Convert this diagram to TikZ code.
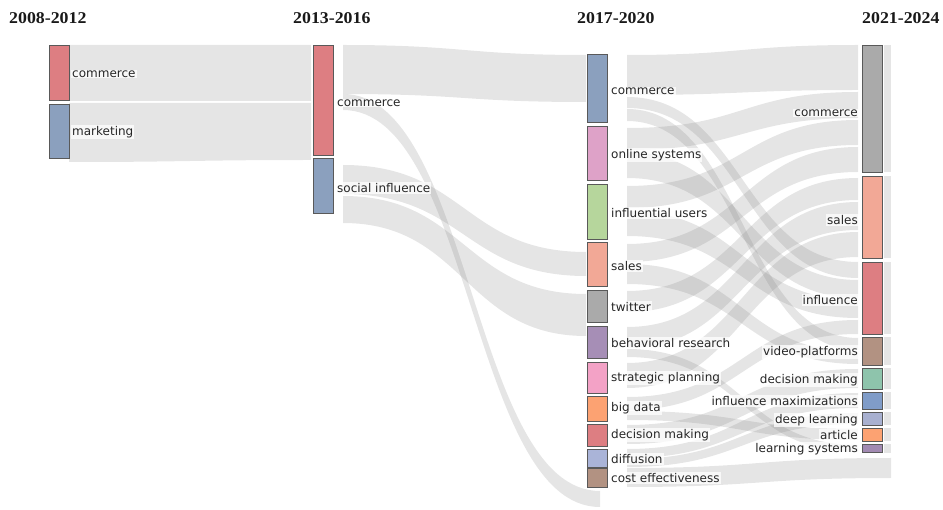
\documentclass[tikz,border=0pt]{standalone}
\usepackage{fontspec}
\setmainfont{Liberation Serif}
\newfontfamily\labelfont{DejaVu Sans}
\definecolor{rose}{RGB}{221,126,130}
\definecolor{steel}{RGB}{139,160,190}
\definecolor{pinkA}{RGB}{222,162,200}
\definecolor{leaf}{RGB}{182,214,156}
\definecolor{salmon}{RGB}{242,168,150}
\definecolor{greyN}{RGB}{170,170,170}
\definecolor{purpleA}{RGB}{166,142,182}
\definecolor{pinkB}{RGB}{243,162,198}
\definecolor{orangeA}{RGB}{252,162,114}
\definecolor{lavA}{RGB}{170,180,216}
\definecolor{brownA}{RGB}{178,146,130}
\definecolor{tealA}{RGB}{142,196,172}
\definecolor{blueB}{RGB}{128,156,200}
\definecolor{lavB}{RGB}{168,176,208}
\definecolor{purpleB}{RGB}{162,138,178}
\tikzset{
 flowfill/.style={fill=black!50, fill opacity=0.2},
 barbox/.style={draw=black!65, line width=0.7pt, minimum width=20pt, inner sep=0pt, outer sep=0pt, anchor=north west},
 lab/.style={font=\labelfont\fontsize{12}{14}\selectfont, text=black!85, fill=white, fill opacity=0.75, text opacity=1, inner sep=1pt},
 yr/.style={font=\fontsize{16.5}{18}\selectfont\bfseries, anchor=west, inner sep=0pt, text=black!90}
}
\newcommand\band[6]{\fill[flowfill] (#1,#2) .. controls ({(#1+#4)/2},#2) and ({(#1+#4)/2},#5) .. (#4,#5) -- (#4,#6) .. controls ({(#1+#4)/2},#6) and ({(#1+#4)/2},#3) .. (#1,#3) -- cycle;}
\newcommand\kbar[5]{\node[barbox, fill=#5, minimum height={(#4-#3)*1pt}] (#1) at (#2,#3) {};}
\begin{document}
\begin{tikzpicture}[x=1pt,y=-1pt]
\useasboundingbox (0,0) rectangle (943,510);
\fill[white] (0,0) rectangle (943,510);
% titles
\node[yr] (t1) at (9,18) {\scalebox{1.08}[1]{2008-2012}};
\node[yr] (t2) at (293,18) {\scalebox{1.08}[1]{2013-2016}};
\node[yr] (t3) at (577,18) {\scalebox{1.08}[1]{2017-2020}};
\node[yr] (t4) at (862,18) {\scalebox{1.08}[1]{2021-2024}};
% flows col1 -> col2
\band{69}{45}{101}{311}{45}{101}
\band{69}{103}{162}{311}{103}{160}
% flows col2 -> col3
\band{343}{45}{94}{586}{55}{102}
\band{343}{94}{110}{600}{491}{507}
\band{343}{165}{194}{586}{252}{276}
\band{343}{196}{223}{586}{294}{336}
% flows col3 -> col4
\band{627}{55}{95}{858}{45}{90}
\band{627}{97}{108}{858}{262}{278}
\band{627}{109}{121}{858}{338}{350}
\band{627}{128}{150}{858}{92}{118}
\band{627}{152}{178}{858}{280}{298}
\band{627}{186}{208}{858}{120}{145}
\band{627}{211}{236}{858}{300}{318}
\band{627}{244}{262}{858}{147}{172}
\band{627}{264}{284}{858}{352}{364}
\band{627}{291}{312}{858}{178}{200}
\band{627}{327}{348}{858}{202}{230}
\band{627}{349}{357}{858}{445}{452}
\band{627}{363}{388}{858}{232}{257}
\band{627}{397}{410}{858}{320}{334}
\band{627}{411}{420}{858}{429}{440}
\band{627}{425}{444}{858}{369}{388}
\band{627}{449}{458}{858}{393}{408}
\band{627}{459}{467}{858}{413}{424}
\band{627}{468}{487}{891}{458}{478}
% right strip
\foreach \a/\b in {45/172,176/258,262/334,337/365,368/389,392/409,412/425,428/441,444/453}
  \fill[flowfill] (884,\a) rectangle (891,\b);
% col1 bars
\kbar{c1com}{49}{45}{100}{rose}
\kbar{c1mkt}{49}{104}{158}{steel}
% col2 bars
\kbar{c2com}{313}{45}{155}{rose}
\kbar{c2soc}{313}{158}{213}{steel}
% col3 bars
\kbar{c3com}{587}{54}{122}{steel}
\kbar{c3onl}{587}{126}{180}{pinkA}
\kbar{c3inf}{587}{184}{239}{leaf}
\kbar{c3sal}{587}{242}{286}{salmon}
\kbar{c3twi}{587}{290}{322}{greyN}
\kbar{c3beh}{587}{326}{358}{purpleA}
\kbar{c3str}{587}{362}{393}{pinkB}
\kbar{c3big}{587}{396}{421}{orangeA}
\kbar{c3dec}{587}{424}{446}{rose}
\kbar{c3dif}{587}{449}{467}{lavA}
\kbar{c3cos}{587}{468}{487}{brownA}
% col4 bars
\kbar{c4com}{862}{45}{172}{greyN}
\kbar{c4sal}{862}{176}{258}{salmon}
\kbar{c4inf}{862}{262}{334}{rose}
\kbar{c4vid}{862}{337}{365}{brownA}
\kbar{c4dec}{862}{368}{389}{tealA}
\kbar{c4max}{862}{392}{409}{blueB}
\kbar{c4dee}{862}{412}{425}{lavB}
\kbar{c4art}{862}{428}{441}{orangeA}
\kbar{c4lea}{862}{444}{452}{purpleB}
% labels col1
\node[lab, anchor=west] (l1a) at (71,74) {commerce};
\node[lab, anchor=west] (l1b) at (71,132) {marketing};
% labels col2
\node[lab, anchor=west] (l2a) at (336,103) {commerce};
\node[lab, anchor=west] (l2b) at (336,188) {social influence};
% labels col3
\node[lab, anchor=west] (l3a) at (610,91) {commerce};
\node[lab, anchor=west] (l3b) at (610,155) {online systems};
\node[lab, anchor=west] (l3c) at (610,213) {influential users};
\node[lab, anchor=west] (l3d) at (610,266) {sales};
\node[lab, anchor=west] (l3e) at (610,307) {twitter};
\node[lab, anchor=west] (l3f) at (610,343) {behavioral research};
\node[lab, anchor=west] (l3g) at (610,378) {strategic planning};
\node[lab, anchor=west] (l3h) at (610,408) {big data};
\node[lab, anchor=west] (l3i) at (610,435) {decision making};
\node[lab, anchor=west] (l3j) at (610,459) {diffusion};
\node[lab, anchor=west] (l3k) at (610,478) {cost effectiveness};
% labels col4
\node[lab, anchor=east] (l4a) at (859,113) {commerce};
\node[lab, anchor=east] (l4b) at (859,220) {sales};
\node[lab, anchor=east] (l4c) at (859,300) {influence};
\node[lab, anchor=east] (l4d) at (859,352) {video-platforms};
\node[lab, anchor=east] (l4e) at (859,380) {decision making};
\node[lab, anchor=east] (l4f) at (859,401) {influence maximizations};
\node[lab, anchor=east] (l4g) at (859,420) {deep learning};
\node[lab, anchor=east] (l4h) at (859,435) {article};
\node[lab, anchor=east] (l4i) at (859,449) {learning systems};
\end{tikzpicture}
\end{document}
